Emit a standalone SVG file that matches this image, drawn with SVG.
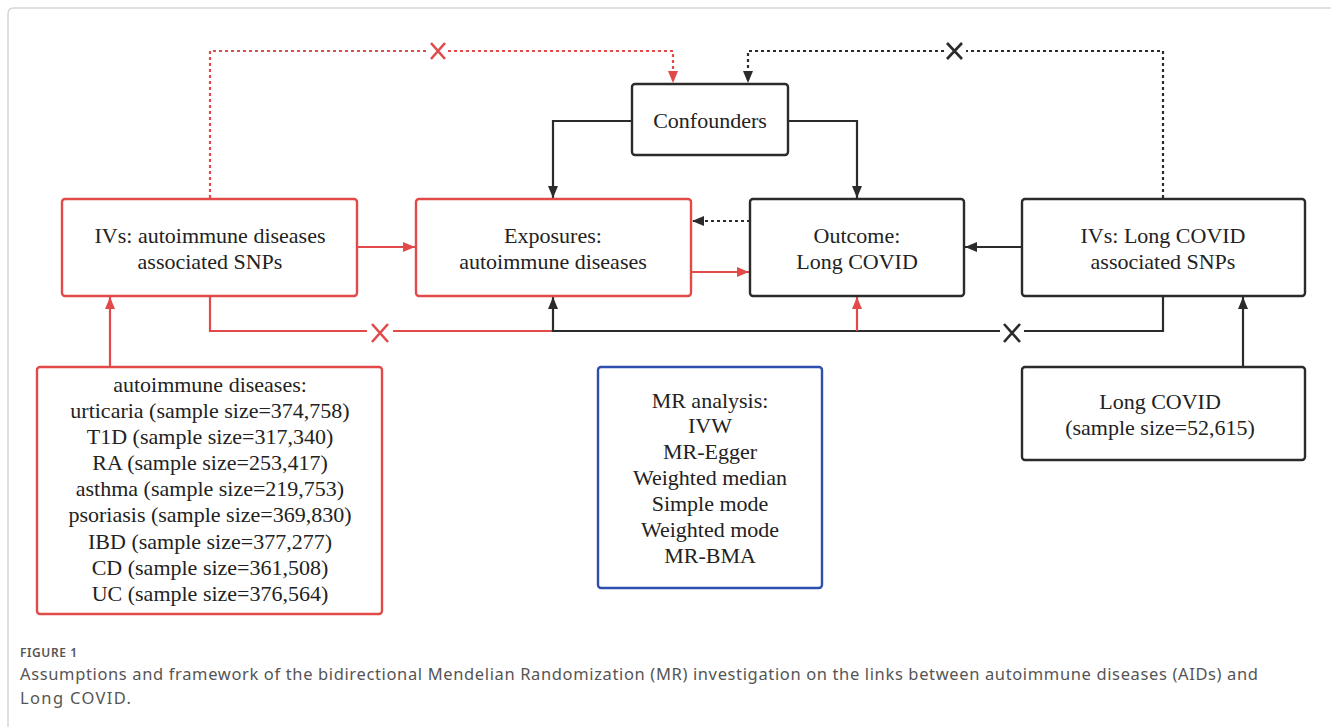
<svg xmlns="http://www.w3.org/2000/svg" width="1331" height="727" viewBox="0 0 1331 727">
<style>
.box{fill:#fff;stroke-width:2.4}
.red{stroke:#e24a4a}
.blk{stroke:#2b2b2b}
.blue{stroke:#2f4fae}
.t{font-family:"Liberation Serif","Times New Roman",serif;font-size:22px;fill:#222;text-anchor:middle}
.ln{fill:none;stroke-width:2.2}
.dot{stroke-dasharray:3 3}
.cap{font-family:"Noto Sans","Open Sans",sans-serif;fill:#555}
</style>
<defs>
<marker id="ar" viewBox="0 0 12 10" refX="12" refY="5" markerWidth="12" markerHeight="10" orient="auto" markerUnits="userSpaceOnUse">
<path d="M0,0 L12,5 L0,10 z" fill="#e24a4a"/>
</marker>
<marker id="ab" viewBox="0 0 12 10" refX="12" refY="5" markerWidth="12" markerHeight="10" orient="auto" markerUnits="userSpaceOnUse">
<path d="M0,0 L12,5 L0,10 z" fill="#2b2b2b"/>
</marker>
</defs>
<rect width="1331" height="727" fill="#fff"/>
<path d="M8,727 V14 Q8,8 14,8 H1331" fill="none" stroke="#d6d6d6" stroke-width="1.5"/>

<g id="connectors">
<path class="ln red dot" d="M210,198 V51 H428 M448,51 H673 V83" marker-end="url(#ar)"/>
<path d="M431,43 L445,59 M445,43 L431,59" stroke="#e24a4a" stroke-width="2.6"/>
<path class="ln blk dot" d="M1163,198 V51 H966 M944,51 H748 V83" marker-end="url(#ab)"/>
<path d="M947,43 L962,59 M962,43 L947,59" stroke="#2b2b2b" stroke-width="2.6"/>
<path class="ln blk" d="M632,121 H553 V198" marker-end="url(#ab)"/>
<path class="ln blk" d="M788,121 H857 V198" marker-end="url(#ab)"/>
<path class="ln red" d="M357,247 H415" marker-end="url(#ar)"/>
<path class="ln red" d="M691,272 H749" marker-end="url(#ar)"/>
<path class="ln blk dot" d="M750,221 H692" marker-end="url(#ab)"/>
<path class="ln blk" d="M1022,247 H965" marker-end="url(#ab)"/>
<path class="ln red" d="M210,296 V331 H367 M393,331 H553"/>
<path d="M372,324 L388,342 M388,324 L372,342" stroke="#e24a4a" stroke-width="2.6"/>
<path class="ln blk" d="M1163,296 V331 H1024 M1000,331 H553 V297" marker-end="url(#ab)"/>
<path d="M1004,324 L1020,342 M1020,324 L1004,342" stroke="#2b2b2b" stroke-width="2.6"/>
<path class="ln red" d="M857,331 V297" marker-end="url(#ar)"/>
<path class="ln red" d="M110,367 V297" marker-end="url(#ar)"/>
<path class="ln blk" d="M1243,367 V297" marker-end="url(#ab)"/>
</g>

<g id="ivs-aid">
<rect class="box red" x="62" y="199" width="295" height="97" rx="3"/>
<text class="t" x="210" y="243">IVs: autoimmune diseases</text>
<text class="t" x="210" y="269">associated SNPs</text>
</g>
<g id="exposures">
<rect class="box red" x="416" y="199" width="275" height="97" rx="3"/>
<text class="t" x="553" y="243">Exposures:</text>
<text class="t" x="553" y="269">autoimmune diseases</text>
</g>
<g id="confounders">
<rect class="box blk" x="632" y="84" width="156" height="71" rx="3"/>
<text class="t" x="710" y="128">Confounders</text>
</g>
<g id="outcome">
<rect class="box blk" x="750" y="199" width="214" height="97" rx="3"/>
<text class="t" x="857" y="243">Outcome:</text>
<text class="t" x="857" y="269">Long COVID</text>
</g>
<g id="ivs-lc">
<rect class="box blk" x="1022" y="199" width="283" height="97" rx="3"/>
<text class="t" x="1163" y="243">IVs: Long COVID</text>
<text class="t" x="1163" y="269">associated SNPs</text>
</g>
<g id="aid-list">
<rect class="box red" x="37" y="367" width="345" height="247" rx="3"/>
<text class="t" x="210" y="392">autoimmune diseases:</text>
<text class="t" x="210" y="418">urticaria (sample size=374,758)</text>
<text class="t" x="210" y="444">T1D (sample size=317,340)</text>
<text class="t" x="210" y="470">RA (sample size=253,417)</text>
<text class="t" x="210" y="496">asthma (sample size=219,753)</text>
<text class="t" x="210" y="522">psoriasis (sample size=369,830)</text>
<text class="t" x="210" y="549">IBD (sample size=377,277)</text>
<text class="t" x="210" y="575">CD (sample size=361,508)</text>
<text class="t" x="210" y="601">UC (sample size=376,564)</text>
</g>
<g id="mr-analysis">
<rect class="box blue" x="598" y="367" width="224" height="221" rx="3"/>
<text class="t" x="710" y="408">MR analysis:</text>
<text class="t" x="710" y="433">IVW</text>
<text class="t" x="710" y="459">MR-Egger</text>
<text class="t" x="710" y="485">Weighted median</text>
<text class="t" x="710" y="511">Simple mode</text>
<text class="t" x="710" y="537">Weighted mode</text>
<text class="t" x="710" y="563">MR-BMA</text>
</g>
<g id="long-covid">
<rect class="box blk" x="1022" y="367" width="283" height="93" rx="3"/>
<text class="t" x="1160" y="409">Long COVID</text>
<text class="t" x="1160" y="435">(sample size=52,615)</text>
</g>
<g id="caption">
<text class="cap" x="20" y="657" font-size="12" font-weight="600" textLength="57">FIGURE 1</text>
<text class="cap" x="20" y="680" font-size="16.5" textLength="1238">Assumptions and framework of the bidirectional Mendelian Randomization (MR) investigation on the links between autoimmune diseases (AIDs) and</text>
<text class="cap" x="20" y="704" font-size="16.5" textLength="111">Long COVID.</text>
</g>
</svg>
